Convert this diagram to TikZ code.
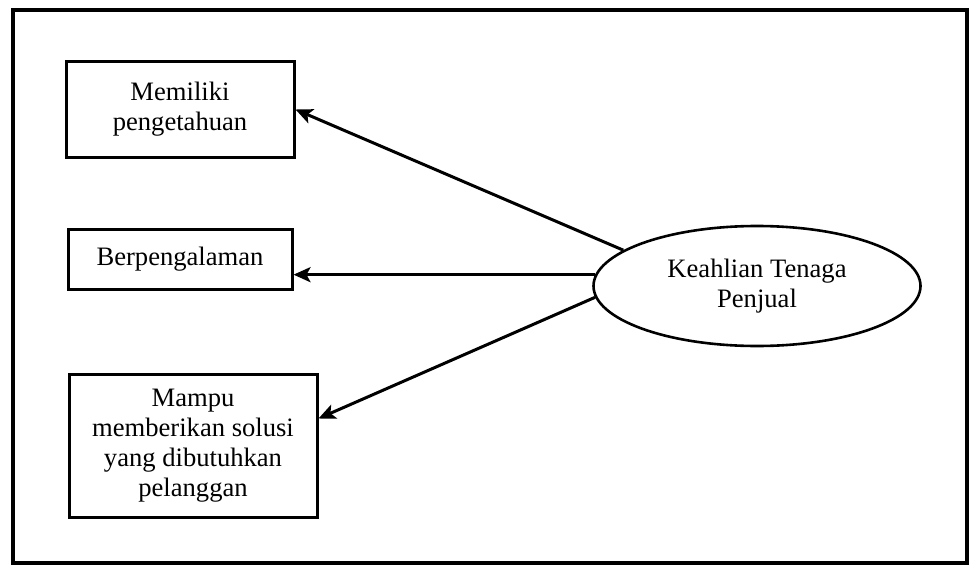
\documentclass[tikz,border=0pt]{standalone}
\usepackage{fontspec}
\setmainfont{Liberation Serif}
\usetikzlibrary{shapes.geometric,arrows.meta,calc}
\begin{document}
\begin{tikzpicture}[x=1pt,y=-1pt,
  every node/.style={font=\fontsize{26.6}{30}\selectfont, align=center, inner sep=0pt},
  itembox/.style={draw, line width=3pt, rectangle},
  mainoval/.style={draw, line width=2.6pt, ellipse},
  link/.style={line width=3pt, -{Stealth[length=17pt,width=15pt,inset=4pt]}}]
  % page and outer frame
  \useasboundingbox (0,0) rectangle (973,567);
  \draw[line width=4.5pt] (13,10) rectangle (967,563);

  % indicator boxes
  \node[itembox, minimum width=228pt, minimum height=95pt] (b1) at (180,109.5)
    {Memiliki\\pengetahuan};
  \node[itembox, minimum width=224pt, minimum height=60pt] (b2) at (180,259)
    {Berpengalaman};
  \node[itembox, minimum width=248pt, minimum height=143pt] (b3) at (193,445.5)
    {Mampu\\memberikan solusi\\yang dibutuhkan\\pelanggan};

  % construct
  \node[mainoval, minimum width=327pt, minimum height=120pt] (e) at (757,286)
    {Keahlian Tenaga\\Penjual};

  % arrows from the construct to its indicators
  \draw[link] (e.165.5) -- (b1.east);
  \draw[link] (e.176) -- (e.176 -| b2.east);
  \draw[link] (e.184) -- ($(b3.east)+(0,-27)$);
\end{tikzpicture}
\end{document}
